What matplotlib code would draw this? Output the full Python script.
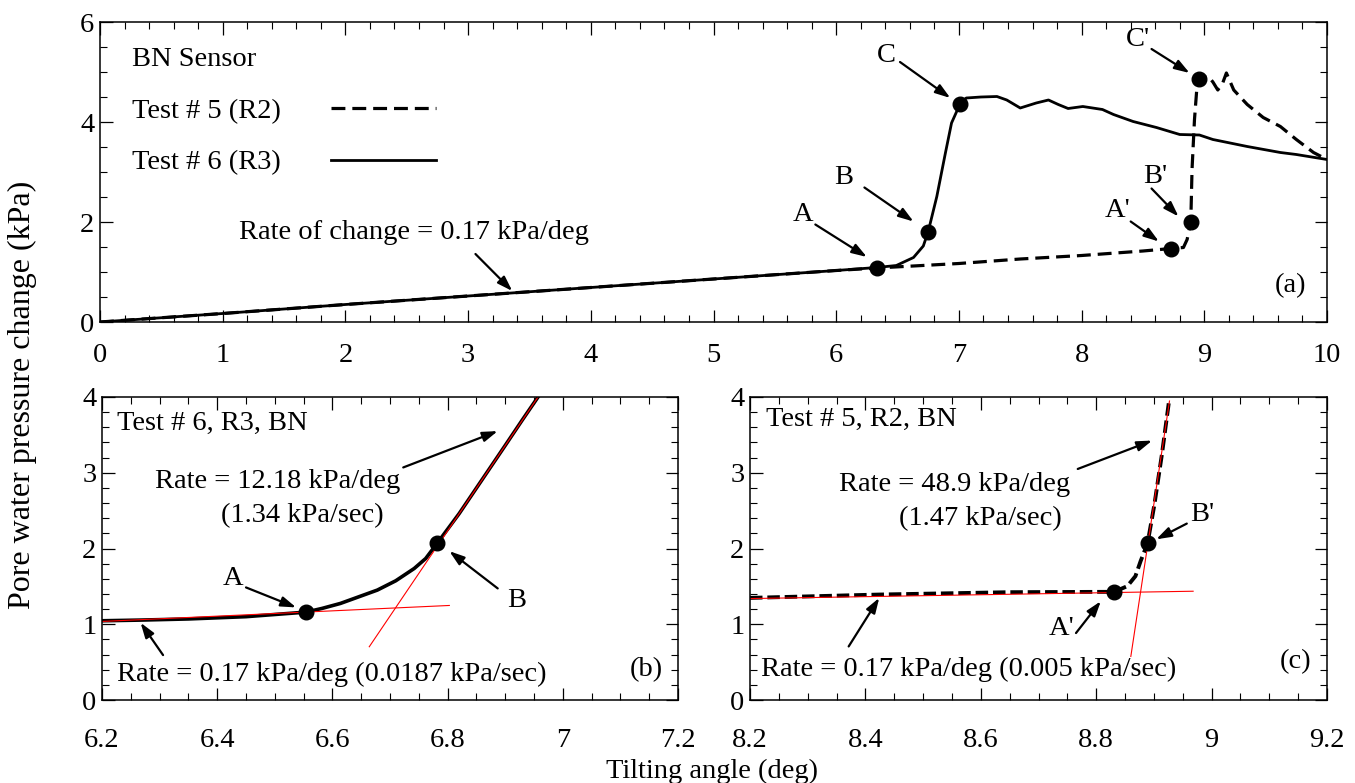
import matplotlib
matplotlib.use("Agg")
import matplotlib.pyplot as plt
from matplotlib.ticker import MultipleLocator

plt.rcParams['font.family'] = ['Liberation Serif', 'DejaVu Serif']
plt.rcParams['lines.scale_dashes'] = False

# ---- panel (a): full tilting record ----
t6_x = [0, 1, 2, 3, 4, 5, 6, 6.33, 6.49, 6.63, 6.71, 6.75, 6.82, 6.89, 6.94, 6.98,
        7.01, 7.06, 7.18, 7.31, 7.39, 7.50, 7.63, 7.73, 7.81, 7.89, 8.01, 8.17,
        8.26, 8.42, 8.61, 8.80, 8.96, 9.07, 9.35, 9.62, 9.75, 10.0]
t6_y = [0, 0.17, 0.35, 0.52, 0.69, 0.86, 1.03, 1.09, 1.13, 1.29, 1.52, 1.81, 2.51,
        3.38, 3.98, 4.20, 4.37, 4.48, 4.50, 4.51, 4.44, 4.28, 4.38, 4.44, 4.35,
        4.27, 4.31, 4.25, 4.15, 4.01, 3.89, 3.75, 3.74, 3.65, 3.51, 3.39, 3.35, 3.25]

t5_x = [0, 1, 2, 3, 4, 5, 6, 6.33, 7.0, 7.5, 8.0, 8.5, 8.73, 8.83, 8.86, 8.89,
        8.90, 8.92, 8.94, 8.96, 9.03, 9.07, 9.11, 9.15, 9.18, 9.24, 9.35, 9.48,
        9.62, 9.75, 9.89, 10.0]
t5_y = [0, 0.17, 0.35, 0.52, 0.69, 0.86, 1.03, 1.08, 1.17, 1.26, 1.33, 1.42, 1.47,
        1.49, 1.65, 2.01, 3.05, 4.05, 4.70, 4.86, 4.92, 4.80, 4.64, 4.78, 4.98,
        4.64, 4.35, 4.09, 3.91, 3.65, 3.39, 3.25]

a_pts_x = [6.33, 6.75, 7.01, 8.73, 8.89, 8.96]
a_pts_y = [1.09, 1.81, 4.37, 1.47, 2.01, 4.86]

# ---- panel (b): test 6 close-up ----
b_x = [6.2, 6.267, 6.35, 6.45, 6.554, 6.582, 6.614, 6.646, 6.678, 6.710, 6.742,
       6.762, 6.782, 6.82, 6.86, 6.90, 6.93, 6.957]
b_y = [1.046, 1.055, 1.07, 1.10, 1.16, 1.209, 1.275, 1.363, 1.451, 1.574, 1.736,
       1.868, 2.07, 2.46, 2.91, 3.36, 3.70, 4.0]
b_fit1_x = [6.2, 6.803]
b_fit1_y = [1.037, 1.248]
b_fit2_x = [6.664, 6.957]
b_fit2_y = [0.703, 4.0]
b_pts_x = [6.554, 6.782]
b_pts_y = [1.16, 2.07]

# ---- panel (c): test 5 close-up ----
c_x = [8.2, 8.424, 8.649, 8.831, 8.854, 8.868, 8.877, 8.889, 8.901, 8.914, 8.926]
c_y = [1.348, 1.392, 1.423, 1.428, 1.503, 1.635, 1.834, 2.068, 2.586, 3.249, 3.934]
c_fit1_x = [8.2, 8.968]
c_fit1_y = [1.339, 1.436]
c_fit2_x = [8.86, 8.927]
c_fit2_y = [0.575, 3.947]
c_pts_x = [8.831, 8.889]
c_pts_y = [1.428, 2.068]

FS = 20.5
W, H = 1355, 783


def box(l, r, t, b):
    return [l / W, 1 - b / H, (r - l) / W, (b - t) / H]


def style_axes(ax, xpad=15):
    ax.tick_params(which='both', direction='in', top=True, right=True, labelsize=FS)
    ax.tick_params(axis='x', pad=xpad)
    ax.tick_params(axis='y', pad=4)
    ax.tick_params(which='major', length=9, width=0.9)
    ax.tick_params(which='minor', length=5, width=0.8)
    for s in ax.spines.values():
        s.set_linewidth(1.1)


def arrow(ax, tail, head):
    ax.annotate('', xy=head, xytext=tail,
                arrowprops=dict(arrowstyle='-|>,head_length=0.9,head_width=0.3',
                                color='black', lw=1.6, shrinkA=0, shrinkB=0))


def label(ax, x, y, s, ha='center', axes=False):
    kw = dict(transform=ax.transAxes) if axes else {}
    ax.text(x, y, s, fontsize=FS, ha=ha, va='center', **kw)


fig = plt.figure(figsize=(W / 100, H / 100), dpi=100)

# panel (a)
ax1 = fig.add_axes(box(100, 1327, 22, 322))
l5, = ax1.plot(t5_x, t5_y, color='black', lw=2.3, dashes=(10, 5))
l6, = ax1.plot(t6_x, t6_y, color='black', lw=2.0)
ax1.plot(a_pts_x, a_pts_y, 'o', color='black', ms=10.5)
ax1.set_xlim(0, 10)
ax1.set_ylim(0, 6)
ax1.xaxis.set_major_locator(MultipleLocator(1))
ax1.xaxis.set_minor_locator(MultipleLocator(0.2))
ax1.yaxis.set_major_locator(MultipleLocator(2))
ax1.yaxis.set_minor_locator(MultipleLocator(0.5))
style_axes(ax1)

ax1.legend([l5, l6], ['Test # 5 (R2)', 'Test # 6 (R3)'], title='BN Sensor',
           loc='upper left', bbox_to_anchor=(0.026, 0.915), frameon=False,
           fontsize=FS, title_fontsize=FS, markerfirst=False,
           handlelength=3.7, handletextpad=1.75, labelspacing=0.9,
           alignment='left', borderpad=0, borderaxespad=0)

label(ax1, 2.56, 1.79, 'Rate of change = 0.17 kPa/deg')
arrow(ax1, (3.06, 1.36), (3.36, 0.62))
label(ax1, 5.73, 2.15, 'A')
arrow(ax1, (5.83, 1.95), (6.25, 1.30))
label(ax1, 6.06, 2.89, 'B')
arrow(ax1, (6.23, 2.69), (6.63, 2.01))
label(ax1, 6.41, 5.32, 'C')
arrow(ax1, (6.52, 5.20), (6.93, 4.48))
label(ax1, 8.46, 5.64, "C'")
arrow(ax1, (8.57, 5.46), (8.88, 4.98))
label(ax1, 8.60, 2.91, "B'")
arrow(ax1, (8.57, 2.67), (8.79, 2.11))
label(ax1, 8.29, 2.23, "A'")
arrow(ax1, (8.40, 2.01), (8.63, 1.61))
label(ax1, 0.97, 0.12, '(a)', axes=True)

# panel (b)
ax2 = fig.add_axes(box(102, 678, 397, 700))
ax2.plot(b_x, b_y, color='black', lw=2.6)
ax2.plot(b_fit1_x, b_fit1_y, color='red', lw=0.8)
ax2.plot(b_fit2_x, b_fit2_y, color='red', lw=0.8)
ax2.plot(b_pts_x, b_pts_y, 'o', color='black', ms=10.5)
ax2.set_xlim(6.2, 7.2)
ax2.set_ylim(0, 4)
ax2.xaxis.set_major_locator(MultipleLocator(0.2))
ax2.xaxis.set_minor_locator(MultipleLocator(0.05))
ax2.yaxis.set_major_locator(MultipleLocator(1))
ax2.yaxis.set_minor_locator(MultipleLocator(0.2))
ax2.xaxis.set_major_formatter(lambda v, p: f'{v:g}')
style_axes(ax2, xpad=20)

label(ax2, 0.026, 0.912, 'Test # 6, R3, BN', ha='left', axes=True)
label(ax2, 0.305, 0.722, 'Rate = 12.18 kPa/deg', axes=True)
label(ax2, 0.347, 0.61, '(1.34 kPa/sec)', axes=True)
arrow(ax2, (6.723, 3.07), (6.887, 3.55))
label(ax2, 6.428, 1.604, 'A')
arrow(ax2, (6.45, 1.486), (6.537, 1.222))
label(ax2, 6.919, 1.319, 'B')
arrow(ax2, (6.887, 1.473), (6.803, 1.965))
arrow(ax2, (6.306, 0.593), (6.267, 1.02))
label(ax2, 0.026, 0.085, 'Rate = 0.17 kPa/deg (0.0187 kPa/sec)', ha='left', axes=True)
label(ax2, 0.945, 0.10, '(b)', axes=True)

# panel (c)
ax3 = fig.add_axes(box(750, 1327, 397, 700))
ax3.plot(c_x, c_y, color='black', lw=2.8, dashes=(9, 3.5))
ax3.plot(c_fit1_x, c_fit1_y, color='red', lw=0.8)
ax3.plot(c_fit2_x, c_fit2_y, color='red', lw=0.8)
ax3.plot(c_pts_x, c_pts_y, 'o', color='black', ms=10.5)
ax3.set_xlim(8.2, 9.2)
ax3.set_ylim(0, 4)
ax3.xaxis.set_major_locator(MultipleLocator(0.2))
ax3.xaxis.set_minor_locator(MultipleLocator(0.05))
ax3.yaxis.set_major_locator(MultipleLocator(1))
ax3.yaxis.set_minor_locator(MultipleLocator(0.2))
ax3.xaxis.set_major_formatter(lambda v, p: f'{v:g}')
style_axes(ax3, xpad=20)

label(ax3, 0.0285, 0.925, 'Test # 5, R2, BN', ha='left', axes=True)
label(ax3, 0.354, 0.71, 'Rate = 48.9 kPa/deg', axes=True)
label(ax3, 0.40, 0.60, '(1.47 kPa/sec)', axes=True)
arrow(ax3, (8.768, 3.05), (8.897, 3.425))
label(ax3, 8.983, 2.453, "B'")
arrow(ax3, (8.957, 2.329), (8.904, 2.121))
label(ax3, 8.74, 0.95, "A'")
arrow(ax3, (8.765, 0.884), (8.808, 1.304))
arrow(ax3, (8.371, 0.707), (8.424, 1.348))
label(ax3, 0.0185, 0.10, 'Rate = 0.17 kPa/deg (0.005 kPa/sec)', ha='left', axes=True)
label(ax3, 0.946, 0.127, '(c)', axes=True)

fig.text(22 / W, 1 - 395 / H, 'Pore water pressure change (kPa)', fontsize=23,
         rotation=90, ha='center', va='center')
fig.text(712 / W, 1 - 771 / H, 'Tilting angle (deg)', fontsize=FS, ha='center', va='center')

fig.savefig('out.png', dpi=100)
